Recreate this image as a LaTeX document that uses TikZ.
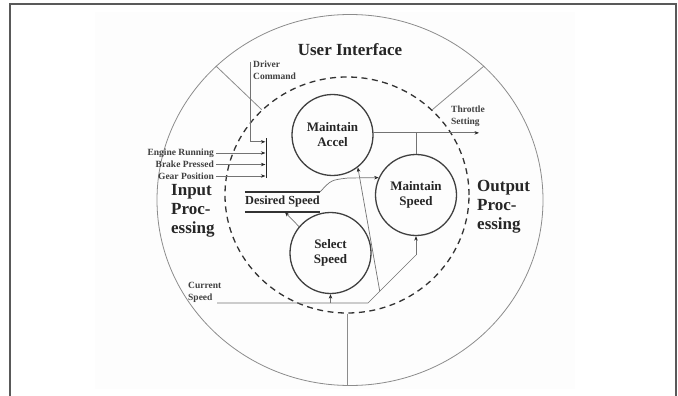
\documentclass[tikz,border=0pt]{standalone}
\usepackage{fontspec}
\setmainfont{Liberation Serif}
\usetikzlibrary{arrows.meta,calc,shapes.geometric}
\begin{document}
\begin{tikzpicture}[x=1pt,y=-1pt,
  proc/.style={circle,draw=black!75,line width=1.3pt,minimum size=81pt,inner sep=0pt,
    align=center,font=\fontsize{13}{15}\selectfont\bfseries,text=black!85},
  region/.style={align=left,font=\fontsize{17}{19}\selectfont\bfseries,text=black!85,inner sep=0pt},
  flowlbl/.style={align=left,font=\fontsize{9.5}{12}\selectfont\bfseries,text=black!75,inner sep=0pt},
  flow/.style={draw=black!55,line width=0.7pt},
  arr/.style={flow,-{Stealth[length=4.5pt,width=3.5pt,black!85]}},
  rim/.style={ellipse,draw=black!45,line width=0.8pt,inner sep=0pt},
  store/.style={draw=black!80,line width=1.8pt},
]
\useasboundingbox (0,0) rectangle (678,396);

% page frame
\fill[black!0.8] (95,12) rectangle (575,389);
\draw[black!65,line width=1.6pt] (10,396) -- (10,4) -- (676,4) -- (676,396);

% outer region ring and the dashed core boundary
\node[rim,minimum width=386pt,minimum height=371pt] (outer) at (350,200) {};
\node[ellipse,draw=black!80,line width=1.3pt,dash pattern=on 6pt off 4.5pt,
      minimum width=244pt,minimum height=236pt,inner sep=0pt] (core) at (347,195) {};

% region dividers
\draw[draw=black!45,line width=0.8pt] (outer.135) -- (core.135);
\draw[draw=black!45,line width=0.8pt] (outer.45) -- (core.45);
\draw[draw=black!45,line width=0.8pt] (core.south) -- (core.south |- outer.south);

% region titles
\node[region] (ui) at (350,50) {User Interface};
\node[region,anchor=west] (inp) at (171,211) {Input\\Proc-\\essing};
\node[region,anchor=west] (outp) at (477,207) {Output\\Proc-\\essing};

% processes
\node[proc] (ma) at (332.5,135) {Maintain\\Accel};
\node[proc] (ms) at (416,195) {Maintain\\Speed};
\node[proc] (ss) at (330.5,253) {Select\\Speed};

% data store
\node[inner sep=0pt,minimum width=75pt,minimum height=20pt,
      font=\fontsize{12.3}{14}\selectfont\bfseries,text=black!85] (ds) at (282.5,202) {Desired Speed};
\draw[store] (ds.north west) -- (ds.north east);
\draw[store] (ds.south west) -- (ds.south east);

% input bar
\node[fill=black!85,minimum width=1.8pt,minimum height=40pt,inner sep=0pt] (bar) at (266.5,158) {};

% driver inputs
\node[flowlbl,anchor=east] (er) at (214,153) {Engine Running};
\node[flowlbl,anchor=east] (bp) at (214,164.5) {Brake Pressed};
\node[flowlbl,anchor=east] (gp) at (214,176) {Gear Position};
\draw[arr] ([xshift=2pt]er.east) -- (er.east -| bar.west);
\draw[arr] ([xshift=2pt]bp.east) -- (bp.east -| bar.west);
\draw[arr] ([xshift=2pt]gp.east) -- (gp.east -| bar.west);

\node[flowlbl,anchor=north west] (dcl) at (253,61) {Driver\\Command};
\coordinate (dctop) at (250,62);
\draw[arr] (dctop) |- ([yshift=-4pt]bar.north west);

% throttle output
\coordinate (thr) at (479,133);
\node[flowlbl,anchor=west] (tsl) at (451,116) {Throttle\\Setting};
\draw[arr] (ma.3) -- (ma.3 -| thr);
\draw[flow] (ms.north |- thr) -- (ms.north);

% desired speed flows
\draw[arr] (ss.140) -- ([xshift=2.5pt]ds.south);
\draw[arr] (ds.north east) .. controls (331,180) .. (348,178) -- (ms.155);

% current speed
\node[flowlbl,anchor=north west] (csl) at (188,282) {Current\\Speed};
\coordinate (csin) at (217,303);
\coordinate (kink) at (368,303);
\coordinate (rise) at (416,255);
\draw[flow] (csin) -- (kink) -- (rise);
\draw[arr] (rise) -- (ms.south);
\draw[arr] (ss.south |- kink) -- (ss.south);
\draw[arr] ($(kink)!0.245!(rise)$) -- (ma.-52);
\end{tikzpicture}
\end{document}
